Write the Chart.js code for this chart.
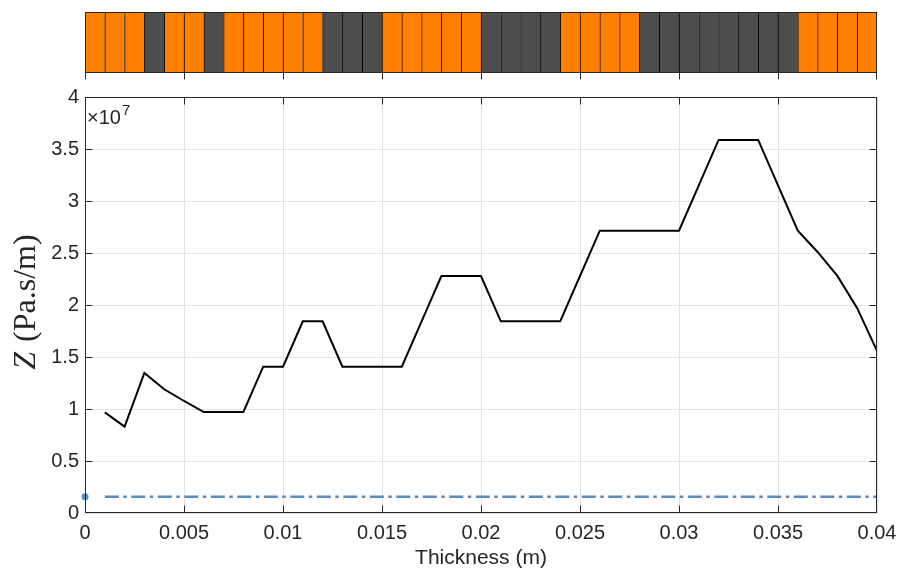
<!DOCTYPE html>
<html><head><meta charset="utf-8">
<script src="https://cdn.jsdelivr.net/npm/chart.js@4.4.1/dist/chart.umd.min.js"></script>
<style>
html,body{margin:0;padding:0;background:#fff;}
#wrap{position:relative;width:899px;height:572px;overflow:hidden;}
#main,#strip{position:absolute;left:0;top:0;}
</style></head><body>
<div id="wrap">
<canvas id="main" width="899" height="572"></canvas>
<canvas id="strip" width="899" height="90"></canvas>
</div>
<script>
// ---- data ----
const thickness = [0.001,0.002,0.003,0.004,0.005,0.006,0.007,0.008,0.009,0.010,
                   0.011,0.012,0.013,0.014,0.015,0.016,0.017,0.018,0.019,0.020,
                   0.021,0.022,0.023,0.024,0.025,0.026,0.027,0.028,0.029,0.030,
                   0.031,0.032,0.033,0.034,0.035,0.036,0.037,0.038,0.039,0.040];
const impedance = [9.68e6,8.30e6,1.346e7,1.19e7,1.077e7,9.71e6,9.71e6,9.71e6,1.407e7,1.407e7,
                   1.843e7,1.843e7,1.407e7,1.407e7,1.407e7,1.407e7,1.843e7,2.279e7,2.279e7,2.279e7,
                   1.843e7,1.843e7,1.843e7,1.843e7,2.279e7,2.715e7,2.715e7,2.715e7,2.715e7,2.715e7,
                   3.15e7,3.587e7,3.587e7,3.587e7,3.15e7,2.715e7,2.51e7,2.28e7,1.97e7,1.56e7];
const refThickness = [0.001, 0.040];
const refImpedance = [1.57e6, 1.57e6];
const sourceThickness = [0];
const sourceImpedance = [1.57e6];
// layer material per 1 mm cell: O = orange material, D = dark material
const layerTypes = ['O','O','O','D','O','O','D','O','O','O',
                    'O','O','D','D','D','O','O','O','O','O',
                    'D','D','D','D','O','O','O','O','D','D',
                    'D','D','D','D','D','D','O','O','O','O'];
const layerColors = {O:'#ff8000', D:'#4d4d4d'};
const xTickLabels = ['0','0.005','0.01','0.015','0.02','0.025','0.03','0.035','0.04'];
const yTickLabels = ['0','0.5','1','1.5','2','2.5','3','3.5','4'];

const TXT = '#262626';
const GRID = '#e3e3e3';
const SANS = '"Liberation Sans", Arial, Helvetica, sans-serif';
const clamp=(v,a,b)=>Math.min(Math.max(v,a),b);

const framePlugin = {
  id:'frame',
  afterDraw(chart){
    const {ctx, chartArea:a, scales} = chart;
    const L=Math.round(a.left)+0.5, R=Math.round(a.right)-0.5, T=Math.round(a.top)+0.5, B=Math.round(a.bottom)-0.5;
    ctx.save();
    ctx.strokeStyle='#262626'; ctx.lineWidth=1;
    ctx.strokeRect(L,T,R-L,B-T);
    const tl=7;
    ctx.beginPath();
    scales.x.ticks.forEach(t=>{
      const px=clamp(Math.round(scales.x.getPixelForValue(t.value))+0.5, L, R);
      ctx.moveTo(px,B); ctx.lineTo(px,B-tl);
      ctx.moveTo(px,T); ctx.lineTo(px,T+tl);
    });
    scales.y.ticks.forEach(t=>{
      const py=clamp(Math.round(scales.y.getPixelForValue(t.value))+0.5, T, B);
      ctx.moveTo(L,py); ctx.lineTo(L+tl,py);
      ctx.moveTo(R,py); ctx.lineTo(R-tl,py);
    });
    ctx.stroke();
    // exponent label
    ctx.fillStyle=TXT;
    ctx.textBaseline='alphabetic';
    ctx.font='20px '+SANS;
    ctx.fillText('\u00d710', a.left+2, a.top+27);
    const w=ctx.measureText('\u00d710').width;
    ctx.font='15px '+SANS;
    ctx.fillText('7', a.left+2+w+1, a.top+18);
    // y axis title
    ctx.translate(27, (a.top+a.bottom)/2 - 2);
    ctx.rotate(-Math.PI/2);
    const f1='italic 32px "Liberation Serif", "Times New Roman", serif';
    const f2='32px "Liberation Serif", "Times New Roman", serif';
    ctx.font=f1; const w1=ctx.measureText('Z').width;
    ctx.font=f2; const w2=ctx.measureText(' (Pa.s/m)').width;
    const x0=-(w1+w2)/2;
    ctx.textBaseline='middle';
    ctx.font=f1; ctx.fillText('Z', x0, 0);
    ctx.font=f2; ctx.fillText(' (Pa.s/m)', x0+w1+2, 0);
    ctx.restore();
  }
};

new Chart(document.getElementById('main'), {
  type:'line',
  data:{datasets:[
    {data:thickness.map((x,i)=>({x, y:impedance[i]})), borderColor:'#000', borderWidth:2, pointRadius:0, tension:0, fill:false},
    {data:refThickness.map((x,i)=>({x, y:refImpedance[i]})), borderColor:'#5b8cbf', borderWidth:2.5, borderDash:[14,4.5,3.5,4.5], pointRadius:0, fill:false},
    {data:sourceThickness.map((x,i)=>({x, y:sourceImpedance[i]})), showLine:false, pointRadius:3.5, pointBackgroundColor:'#5b8cbf', pointBorderWidth:0, clip:false}
  ]},
  options:{
    responsive:false, animation:false,
    layout:{padding:{top:97, right:22, left:0, bottom:0}},
    plugins:{legend:{display:false}, tooltip:{enabled:false}},
    scales:{
      x:{type:'linear', min:0, max:0.04,
         afterFit:s=>{s.height=59; s.paddingLeft=0; s.paddingRight=0;},
         grid:{color:GRID, drawTicks:false},
         border:{display:false},
         ticks:{stepSize:0.005, autoSkip:false, maxRotation:0, padding:8, color:TXT, font:{family:SANS, size:20},
                callback:(v,i)=>xTickLabels[i]},
         title:{display:true, text:'Thickness (m)', color:TXT, font:{family:SANS, size:21}, padding:{top:0,bottom:1}}},
      y:{type:'linear', min:0, max:4e7,
         afterFit:s=>{s.width=85; s.paddingTop=0; s.paddingBottom=0;},
         grid:{color:GRID, drawTicks:false},
         border:{display:false},
         ticks:{stepSize:5e6, padding:6, color:TXT, font:{family:SANS, size:20},
                callback:(v,i)=>yTickLabels[i]}}
    }
  },
  plugins:[framePlugin]
});

const stripPlugin = {
  id:'stripFrame',
  afterDraw(chart){
    const {ctx, chartArea:a, scales} = chart;
    const L=Math.round(a.left)+0.5, R=Math.round(a.right)-0.5, T=Math.round(a.top)+0.5, B=Math.round(a.bottom)-0.5;
    ctx.save();
    ctx.strokeStyle='#262626'; ctx.lineWidth=1;
    ctx.strokeRect(L,T,R-L,B-T);
    ctx.beginPath();
    scales.x.ticks.forEach(t=>{
      const px=clamp(Math.round(scales.x.getPixelForValue(t.value))+0.5, L, R);
      ctx.moveTo(px,B); ctx.lineTo(px,B+7);
    });
    ctx.stroke();
    ctx.restore();
  }
};

new Chart(document.getElementById('strip'), {
  type:'bar',
  data:{datasets:[{
    data:layerTypes.map((t,i)=>({x:thickness[i]-0.0005, y:1})),
    backgroundColor:layerTypes.map(t=>layerColors[t]),
    borderColor:'#000', borderWidth:{left:1, right:0, top:0, bottom:0}, borderSkipped:false,
    barPercentage:1, categoryPercentage:1
  }]},
  options:{
    responsive:false, animation:false,
    layout:{padding:{top:12, right:22, left:85, bottom:0}},
    plugins:{legend:{display:false}, tooltip:{enabled:false}},
    scales:{
      x:{type:'linear', min:0, max:0.04, offset:false,
         afterFit:s=>{s.height=17;},
         grid:{display:false}, border:{display:false},
         ticks:{stepSize:0.005, display:false}},
      y:{display:false, min:0, max:1}
    }
  },
  plugins:[stripPlugin]
});
</script>
</body></html>
